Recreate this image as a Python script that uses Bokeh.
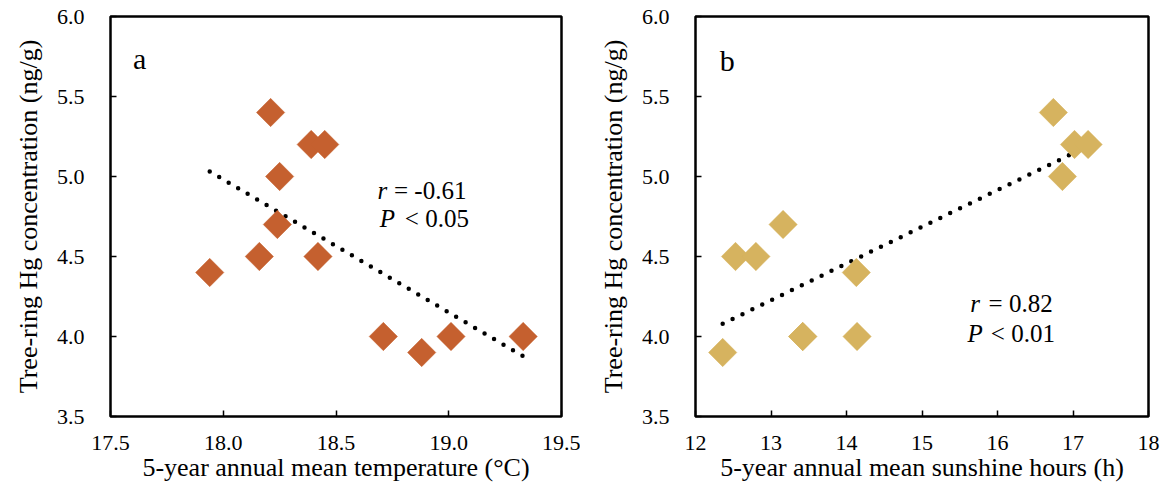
import numpy as np
from bokeh.plotting import figure
from bokeh.layouts import row
from bokeh.models import Range1d, FixedTicker, NumeralTickFormatter, Label
from bokeh.embed import file_html
from bokeh.resources import INLINE

# ---- data ----
temp_x = [17.94, 18.16, 18.21, 18.25, 18.24, 18.39, 18.45, 18.42, 18.71, 18.88, 19.01, 19.33]
temp_hg = [4.4, 4.5, 5.4, 5.0, 4.7, 5.2, 5.2, 4.5, 4.0, 3.9, 4.0, 4.0]
sun_x = [12.36, 12.53, 12.80, 13.16, 13.42, 13.42, 14.13, 14.14, 16.74, 16.86, 17.02, 17.20]
sun_hg = [3.9, 4.5, 4.5, 4.7, 4.0, 4.0, 4.4, 4.0, 5.4, 5.0, 5.2, 5.2]
x_ticks_a = [17.5, 18.0, 18.5, 19.0, 19.5]
x_ticks_b = [12, 13, 14, 15, 16, 17, 18]
y_ticks = [3.5, 4.0, 4.5, 5.0, 5.5, 6.0]
stats_a = ["= -0.61", "< 0.05"]
stats_b = ["= 0.82", "< 0.01"]

FONT = "Liberation Serif"
YLABEL = "Tree-ring Hg concentration (ng/g)"


def panel(xs, ys, color, xr, xticks, xfmt, xlabel, letter, letter_pos,
          stats, stat_pos, width, bl, br):
    p = figure(width=width, height=496, x_range=Range1d(*xr), y_range=Range1d(3.5, 6.0),
               output_backend="svg", toolbar_location=None,
               min_border_left=bl, min_border_right=br, min_border_top=16, min_border_bottom=80)
    p.grid.visible = False
    p.background_fill_color = "white"
    p.border_fill_color = "white"
    p.outline_line_color = "black"
    p.outline_line_width = 2.5
    p.outline_line_alpha = 1.0

    for ax in (p.xaxis[0], p.yaxis[0]):
        ax.axis_line_color = None
        ax.major_tick_in = 6
        ax.major_tick_out = 0
        ax.minor_tick_in = 0
        ax.minor_tick_out = 0
        ax.major_tick_line_color = "black"
        ax.major_tick_line_width = 1.5
        ax.major_label_text_font = FONT
        ax.major_label_text_font_size = "22px"
        ax.major_label_text_color = "black"
        ax.axis_label_text_font = FONT
        ax.axis_label_text_font_size = "26px"
        ax.axis_label_text_font_style = "normal"
        ax.axis_label_text_color = "black"

    p.xaxis.ticker = FixedTicker(ticks=xticks)
    p.xaxis.formatter = NumeralTickFormatter(format=xfmt)
    p.xaxis.axis_label = xlabel
    p.xaxis.major_label_standoff = 19
    p.xaxis.axis_label_standoff = 0

    p.yaxis.ticker = FixedTicker(ticks=y_ticks)
    p.yaxis.formatter = NumeralTickFormatter(format="0.0")
    p.yaxis.axis_label = YLABEL
    p.yaxis.major_label_standoff = 26
    p.yaxis.axis_label_standoff = 11

    # trend line computed from the data (least squares)
    k, b = np.polyfit(xs, ys, 1)
    xx = np.array([min(xs), max(xs)])
    p.line(xx, k * xx + b, line_color="black", line_width=4.5,
           line_dash="0 11", line_cap="round")

    p.scatter(xs, ys, marker="square", size=20, angle=45, angle_units="deg",
              fill_color=color, line_color=color, line_width=0.5)

    p.add_layout(Label(x=letter_pos[0], y=letter_pos[1], text=letter, text_font=FONT,
                       text_font_size="30px", text_color="black", text_align="center",
                       text_baseline="alphabetic"))
    (rx, ex, y1), (px, lx, y2) = stat_pos
    for x, y, t, st in [(rx, y1, "r", "italic"), (ex, y1, stats[0], "normal"),
                        (px, y2, "P", "italic"), (lx, y2, stats[1], "normal")]:
        p.add_layout(Label(x=x, y=y, text=t, text_font=FONT, text_font_size="25px",
                           text_font_style=st, text_color="black", text_align="left",
                           text_baseline="alphabetic"))
    return p


pa = panel(temp_x, temp_hg, "#C5602F", (17.5, 19.5), x_ticks_a, "0.0",
           "5-year annual mean temperature (\u00b0C)", "a", (17.629, 5.74),
           stats_a, ((18.684, 18.757, 4.9125), (18.694, 18.805, 4.7375)),
           580, 110, 19)
pb = panel(sun_x, sun_hg, "#D6B35F", (12, 18), x_ticks_b, "0",
           "5-year annual mean sunshine hours (h)", "b", (12.42, 5.725),
           stats_b, ((15.638, 15.882, 4.208), (15.603, 15.912, 4.021)),
           584, 115, 16)

layout = row(pa, pb)
open("out.html", "w").write(file_html(layout, INLINE))
